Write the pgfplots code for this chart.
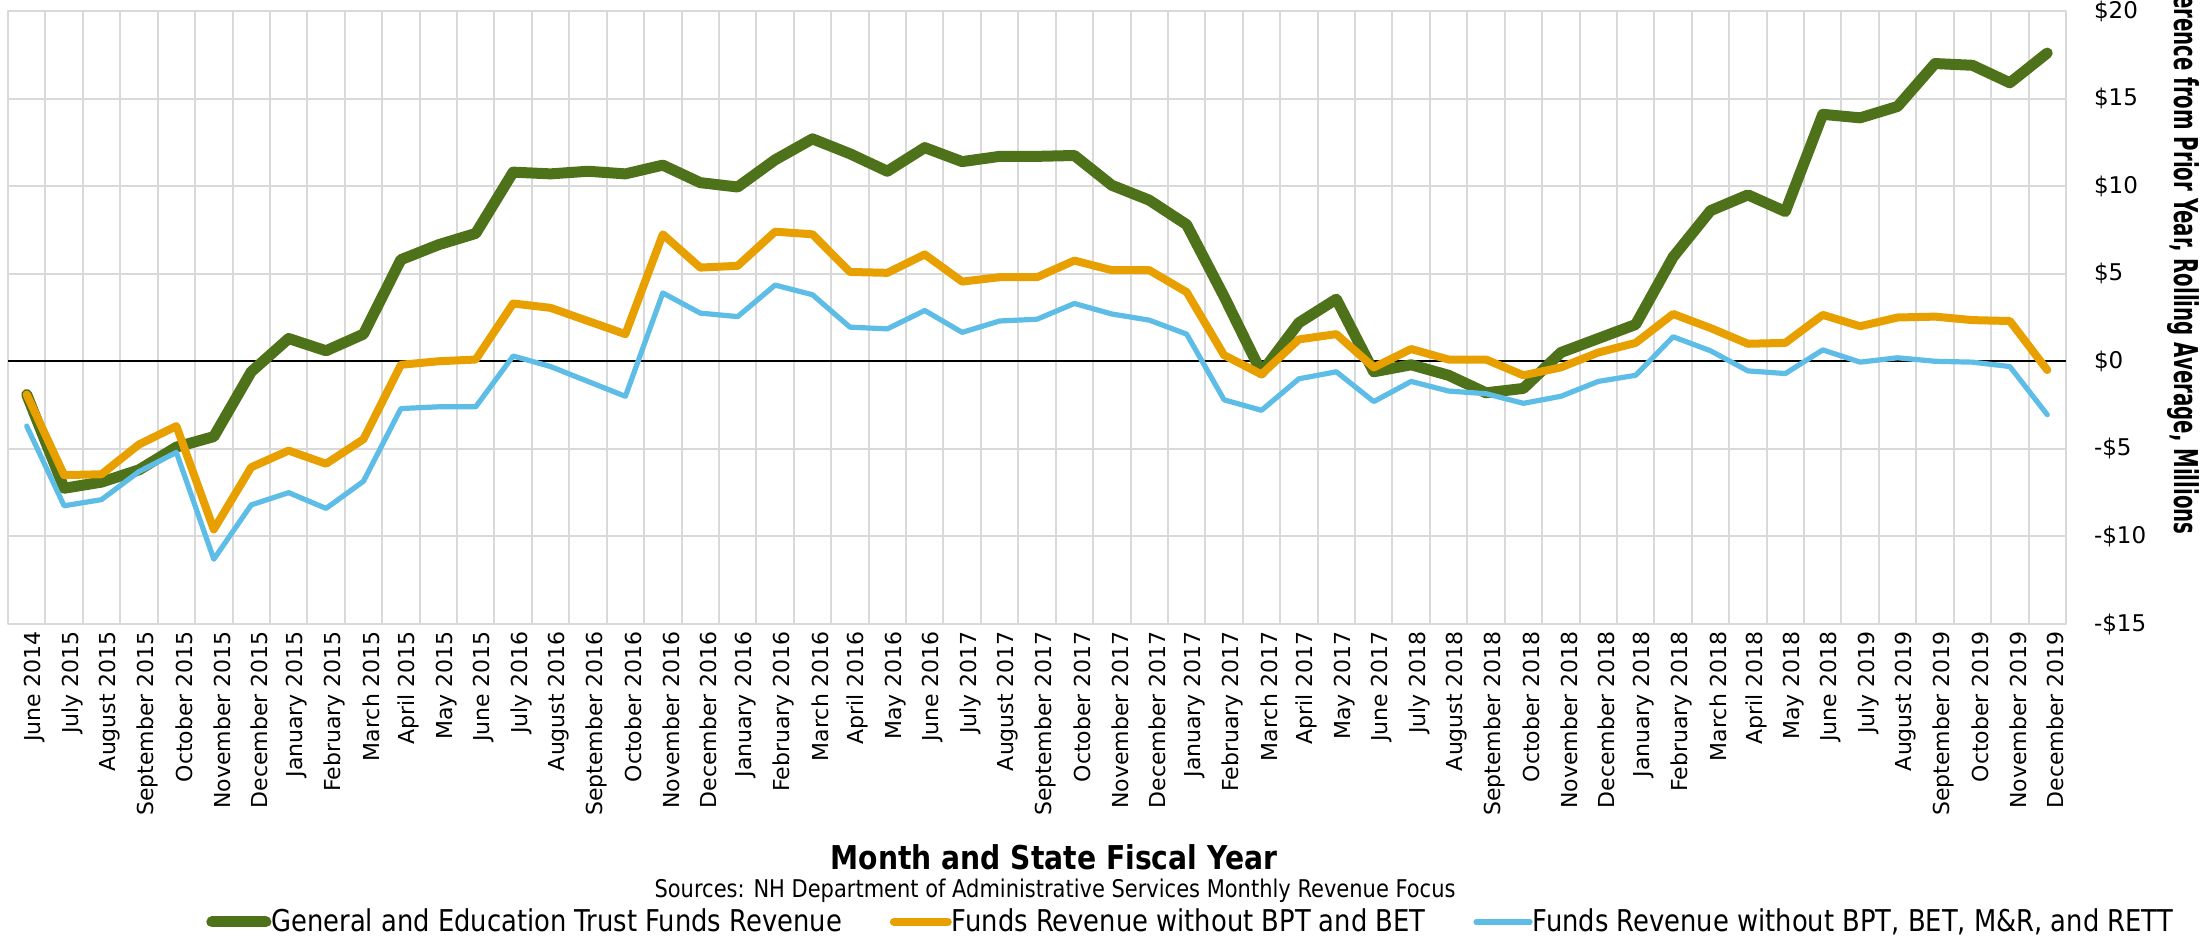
\documentclass[border=0pt]{standalone}
\usepackage{pgfplots}
\pgfplotsset{compat=1.18}
\usepackage{pgfplotstable}
\usepackage{fontspec}
\setmainfont{DejaVu Sans}
\newfontfamily\cond[FakeStretch=0.86]{DejaVu Sans}
\definecolor{cgreen}{HTML}{4E7219}
\definecolor{corange}{HTML}{E8A000}
\definecolor{cblue}{HTML}{5EBDE6}
\definecolor{cgrid}{HTML}{D9D9D9}

\pgfplotstableread{
x g o b
0 -1.9 -1.9 -3.7
1 -7.25 -6.5 -8.25
2 -6.9 -6.45 -7.9
3 -6.2 -4.75 -6.3
4 -4.9 -3.7 -5.2
5 -4.3 -9.6 -11.3
6 -0.6 -6.05 -8.2
7 1.3 -5.1 -7.5
8 0.6 -5.85 -8.4
9 1.55 -4.45 -6.85
10 5.8 -0.2 -2.7
11 6.65 0.0 -2.6
12 7.3 0.1 -2.6
13 10.8 3.3 0.3
14 10.7 3.05 -0.3
15 10.85 2.3 -1.15
16 10.7 1.55 -2.0
17 11.2 7.25 3.9
18 10.2 5.35 2.75
19 9.95 5.45 2.55
20 11.5 7.4 4.35
21 12.7 7.25 3.8
22 11.85 5.1 1.95
23 10.85 5.05 1.85
24 12.2 6.1 2.9
25 11.4 4.55 1.65
26 11.7 4.8 2.3
27 11.7 4.8 2.4
28 11.75 5.75 3.3
29 10.05 5.2 2.7
30 9.2 5.2 2.35
31 7.8 3.95 1.55
32 3.7 0.35 -2.2
33 -0.65 -0.75 -2.8
34 2.2 1.25 -1.0
35 3.55 1.55 -0.6
36 -0.6 -0.35 -2.3
37 -0.2 0.7 -1.15
38 -0.8 0.1 -1.7
39 -1.8 0.1 -1.85
40 -1.55 -0.8 -2.4
41 0.5 -0.35 -2.0
42 1.3 0.5 -1.15
43 2.1 1.05 -0.8
44 5.95 2.7 1.4
45 8.6 1.9 0.6
46 9.5 1.0 -0.55
47 8.55 1.05 -0.7
48 14.1 2.65 0.65
49 13.9 2.0 -0.05
50 14.55 2.5 0.2
51 17.0 2.55 0.0
52 16.9 2.35 -0.05
53 15.9 2.3 -0.3
54 17.6 -0.5 -3.05
}\datatable

\begin{document}
\begin{tikzpicture}
\begin{axis}[
  at={(0,0)}, anchor=south west,
  scale only axis,
  width=1029pt, height=306.5pt,
  xmin=-0.5, xmax=54.5,
  ymin=-15, ymax=20,
  xtick={0,...,54},
  xticklabels={June 2014, July 2015, August 2015, September 2015, October 2015, November 2015, December 2015, January 2015, February 2015, March 2015, April 2015, May 2015, June 2015, July 2016, August 2016, September 2016, October 2016, November 2016, December 2016, January 2016, February 2016, March 2016, April 2016, May 2016, June 2016, July 2017, August 2017, September 2017, October 2017, November 2017, December 2017, January 2017, February 2017, March 2017, April 2017, May 2017, June 2017, July 2018, August 2018, September 2018, October 2018, November 2018, December 2018, January 2018, February 2018, March 2018, April 2018, May 2018, June 2018, July 2019, August 2019, September 2019, October 2019, November 2019, December 2019},
  minor xtick={-0.5,0.5,...,54.5},
  xminorgrids=true, xmajorgrids=false,
  ymajorgrids=true,
  ytick={-15,-10,...,20},
  yticklabels={-\$15,-\$10,-\$5,\$0,\$5,\$10,\$15,\$20},
  yticklabel pos=right,
  major tick length=0pt, minor tick length=0pt,
  grid style={cgrid, line width=1pt},
  minor grid style={cgrid, line width=1pt},
  axis line style={cgrid, line width=1pt},
  xticklabel style={rotate=90, anchor=east, font=\fontsize{11}{13}\selectfont, yshift=-4pt},
  yticklabel style={anchor=west, font=\fontsize{11.5}{14}\selectfont, xshift=10.5pt},
  legend style={at={(axis description cs:0.0962,-0.486)}, anchor=west, draw=none, fill=none, inner sep=0pt,
    font=\cond\fontsize{15}{17}\selectfont, legend columns=3,
    /tikz/every even column/.append style={column sep=24pt},
    nodes={inner xsep=0pt, inner ysep=1pt}},
  legend image code/.code={\draw[#1, line cap=round] (0pt,0pt) -- (27pt,0pt);},
  line join=round,
]
\addplot[black, line width=1pt, forget plot] coordinates {(-0.5,0) (54.5,0)};
\addplot[cgreen, line width=5.5pt, line cap=round] table[x=x, y=g] {\datatable};
\addlegendentry{General and Education Trust Funds Revenue}
\addplot[corange, line width=4pt, line cap=round] table[x=x, y=o] {\datatable};
\addlegendentry{Funds Revenue without BPT and BET}
\addplot[cblue, line width=2.6pt, line cap=round] table[x=x, y=b] {\datatable};
\addlegendentry{Funds Revenue without BPT, BET, M\&R, and RETT}
\end{axis}
\node[font=\cond\bfseries\fontsize{16.4}{18}\selectfont] at (523pt,-116.5pt) {Month and State Fiscal Year};
\node[font=\cond\fontsize{12.2}{14}\selectfont] at (523.5pt,-133.5pt) {Sources: NH Department of Administrative Services Monthly Revenue Focus};
\node[rotate=-90, anchor=east, inner sep=0pt, font=\cond\bfseries\fontsize{16.4}{18}\selectfont] at (1087.5pt,44.5pt) {\scalebox{0.70}[1]{Difference from Prior Year, Rolling Average, Millions}};
\pgfresetboundingbox
\path (-4pt,-156pt) rectangle (1100pt,312pt);
\end{tikzpicture}
\end{document}
